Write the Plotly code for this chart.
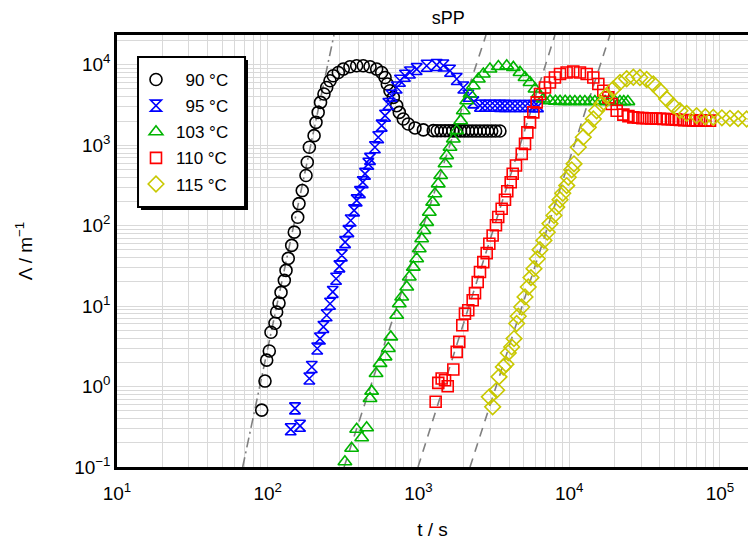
import plotly.graph_objects as go

# ---------------- data ----------------
black_t = [91.2, 95.9, 98.4, 102.4, 105.1, 111.7, 114.6, 118.8, 122.5, 128.8, 132.2, 136.8, 144.2, 150.0,
           158.1, 161.2, 169.4, 179.4, 182.9, 188.8, 203, 209, 216, 224, 236, 246, 259, 272, 294, 317, 351,
           389, 430, 477, 528, 570, 600, 621, 647, 681, 717, 746, 793, 855, 948, 1077, 1254,
           1330, 1410, 1500, 1590, 1690, 1790, 1900, 2020, 2140, 2270, 2410, 2560, 2720, 2880, 3060, 3250, 3470]
black_L = [0.51, 1.17, 2.13, 2.77, 4.73, 6.12, 8.45, 10.9, 14.8, 20.9, 27.8, 39.2, 56.8, 83,
           127, 188, 273, 420, 614, 942, 1315, 1923, 2559, 3405, 4325, 5224, 6324, 7304, 8020, 8840, 9440,
           9720, 9720, 9440, 8840, 8020, 6950, 5770, 4755, 3930, 3100, 2559, 2118, 1837, 1640, 1549, 1518,
           1515, 1512, 1510, 1510, 1508, 1508, 1506, 1506, 1505, 1505, 1504, 1504, 1503, 1503, 1502, 1502, 1502]

blue_t = [142, 151.6, 163.8, 188.8, 196, 213, 222, 234, 246, 259, 270, 284, 299, 310, 326, 343, 355, 374,
          389, 409, 427, 442, 465, 477, 514, 541, 570, 600, 631, 664, 717, 754, 813, 878, 973, 1133, 1320,
          1462, 1619, 1793, 1983, 2141, 2311, 2559,
          2760, 2979, 3220, 3472, 3740, 4047, 4370, 4716, 5100, 5495, 5850, 6207]
blue_L = [0.294, 0.535, 0.325, 1.26, 1.75, 2.97, 3.95, 5.51, 7.69, 10.7, 15.0, 21.9, 31.2, 42.7, 62.4, 85.5,
          116, 155, 206, 261, 347, 441, 587, 676, 942, 1254, 1750, 2328, 3250, 4120, 5224, 6324, 7304, 8020,
          8840, 9720, 9950, 9800, 8430, 6650, 5224, 4120, 3405, 3100,
          3100, 3090, 3090, 3080, 3080, 3075, 3075, 3070, 3070, 3070, 3065, 3065]

green_t = [325, 360, 389, 420, 453, 477, 489, 523, 556, 600, 631, 655, 717, 746, 774, 836, 869, 924, 973,
           1012, 1050, 1088, 1133, 1180, 1242, 1286, 1352, 1403, 1500, 1538, 1619, 1703, 1793, 1905, 1983,
           2089, 2197, 2311, 2495, 2692, 2979, 3388, 3849, 4259, 4716, 5090, 5495, 5930, 6240, 6730, 7460,
           8100, 8690, 9400, 10120, 10900, 11800, 12700, 13750, 14800, 16000, 17300, 18600, 20100, 21700,
           23000, 24500]
green_L = [0.116, 0.171, 0.294, 0.231, 0.308, 0.711, 0.877, 1.45, 1.94, 2.34, 2.97, 4.14, 7.69, 10.7, 13.0,
           17.3, 23.0, 30.5, 38.8, 51.6, 68.7, 87.1, 110, 147, 196, 249, 331, 420, 587, 743, 942, 1197, 1518,
           2018, 2685, 3573, 4325, 5480, 6650, 7670, 8840, 9500, 9700, 9270, 8030, 6950, 6030, 4990, 4325,
           3755, 3573,
           3520, 3510, 3510, 3500, 3500, 3500, 3500, 3495, 3495, 3490, 3490, 3490, 3490, 3485, 3485, 3485]

red_t = [1300, 1353, 1425, 1500, 1563, 1703, 1793, 1865, 1953, 2034, 2139, 2289, 2371, 2471, 2559, 2692,
         2834, 2951, 3105, 3266, 3381, 3563, 3749, 3882, 4091, 4218, 4436, 4841, 5090, 5275, 5495, 5780,
         6085, 6400, 6905, 7450, 8040, 8690, 9610, 10640, 11780, 13050, 14450, 15600, 16830, 18170, 19140,
         20650,
         22860, 24700, 26630, 28600, 30600, 32670, 35000, 37500, 40000, 42100, 45000, 48000, 51000, 54300,
         58000, 62000, 66000, 70000, 75000, 80000, 85900]
red_L = [0.646, 1.11, 1.26, 1.20, 1.01, 1.63, 2.70, 3.59, 5.78, 8.07, 8.88, 11.8, 14.5, 19.9, 26.5, 35.2,
         45.6, 59.6, 75.5, 101, 128, 162, 210, 268, 347, 441, 559, 780, 1038, 1445, 1923, 2559, 3405, 4325,
         5224, 6030, 6950, 7670, 8020, 8260, 8020, 7670, 6950, 5770, 4755, 3930, 3250, 2685,
         2400, 2300, 2220, 2190, 2170, 2160, 2150, 2140, 2130, 2120, 2110, 2100, 2080, 2060, 2050, 2040,
         2030, 2020, 2020, 2020, 2020]

yellow_t = [2951, 3105, 3304, 3420, 3655, 3804, 3941, 4150, 4302, 4480, 4592, 4841, 5090, 5350, 5575, 5840,
            6140, 6400, 6800, 7150, 7450, 7925, 8260, 8690, 9060, 9620, 9860, 10380, 10760, 11490, 12400,
            13380, 14450, 15200, 16410, 17710, 19590, 21720, 24050, 26630, 29440, 32650, 36130, 40000,
            44330, 49000, 54300, 60100, 70000, 80000, 90300, 103000, 116500, 132000, 150300, 173400, 200000]
yellow_L = [0.745, 0.560, 0.902, 1.32, 1.75, 1.90, 2.62, 3.11, 3.95, 6.07, 7.47, 9.75, 13.0, 17.3, 22.6,
            29.2, 38.8, 50.2, 65.5, 83.0, 106, 134, 170, 210, 253, 315, 400, 494, 587, 942, 1254, 1668, 2118,
            2685, 3250, 4120, 4990, 6030, 6700, 7000, 6950, 6550, 5770, 4755, 3750, 3100, 2685, 2485, 2328,
            2260, 2220, 2190, 2160, 2140, 2120, 2120, 2120]

# straight guide lines (log-log), endpoints
guide_L = [0.1, 23400]
guide_black_t = [68.2, 275]
guide_green_t = [321, 2805]
guide_red_t = [993, 8040]
guide_yellow_t = [2197, 18620]

series_names = ["\u200790 °C", "\u200795 °C", "103 °C", "110 °C", "115 °C"]
x_tickvals = [10, 100, 1000, 10000, 100000]
x_ticktext = ["10<sup>1</sup>", "10<sup>2</sup>", "10<sup>3</sup>", "10<sup>4</sup>", "10<sup>5</sup>"]
y_tickvals = [0.1, 1, 10, 100, 1000, 10000]
y_ticktext = ["10<sup>\u22121</sup>", "10<sup>0</sup>", "10<sup>1</sup>", "10<sup>2</sup>",
              "10<sup>3</sup>", "10<sup>4</sup>"]

FONT = "Liberation Sans, Arial, sans-serif"

fig = go.Figure()

# guide lines
for gt, dash in [(guide_black_t, "10px,4px,2px,4px"), (guide_green_t, "9px,7px"),
                 (guide_red_t, "9px,7px"), (guide_yellow_t, "9px,7px")]:
    fig.add_trace(go.Scatter(x=gt, y=guide_L, mode="lines", showlegend=False, hoverinfo="skip",
                             line=dict(color="#808080", width=1.6, dash=dash)))

specs = [
    (black_t, black_L, "circle-open", "#000000", 12),
    (blue_t, blue_L, "hourglass-open", "#0000ff", 11),
    (green_t, green_L, "triangle-up-open", "#00b400", 12),
    (red_t, red_L, "square-open", "#ff0000", 11),
    (yellow_t, yellow_L, "diamond-open", "#c8c800", 12),
]
for i, (t, L, sym, col, sz) in enumerate(specs):
    fig.add_trace(go.Scatter(x=t, y=L, mode="markers", name=series_names[i],
                             legendgroup=str(i),
                             marker=dict(symbol=sym, size=sz, color=col, line=dict(color=col, width=1.6))))

grid_col = "#d9d9d9"
fig.update_layout(
    width=740, height=532,
    margin=dict(l=109, r=0, t=27, b=73),
    paper_bgcolor="white", plot_bgcolor="white",
    title=dict(text="sPP", xref="paper", x=0.525, xanchor="center", y=0.982, yanchor="middle",
               font=dict(family=FONT, size=18, color="black")),
    showlegend=True,
    legend=dict(x=0.0301, y=0.9375, xanchor="left", yanchor="top", bgcolor="rgba(0,0,0,0)",
                borderwidth=0, traceorder="grouped", tracegroupgap=1,
                font=dict(family=FONT, size=17, color="black")),
    shapes=[
        dict(type="rect", xref="paper", yref="paper", x0=0.0380, x1=0.2076, y0=0.5949, y1=0.9421,
             fillcolor="black", line=dict(width=0), layer="above"),
        dict(type="rect", xref="paper", yref="paper", x0=0.0333, x1=0.2029, y0=0.6019, y1=0.9491,
             fillcolor="white", line=dict(color="black", width=2), layer="above"),
    ],
    xaxis=dict(type="log", range=[1, 5.186], showline=True, linecolor="black", linewidth=2.5, mirror=True,
               automargin=False,
               showgrid=True, gridcolor=grid_col, gridwidth=1.3, zeroline=False, ticks="",
               tickvals=x_tickvals, ticktext=x_ticktext, ticklabelstandoff=7,
               minor=dict(dtick="D1", showgrid=True, gridcolor=grid_col, gridwidth=1.3),
               tickfont=dict(family=FONT, size=19, color="black"),
               title=dict(text="t / s", font=dict(family=FONT, size=19, color="black"), standoff=30)),
    yaxis=dict(type="log", range=[-1, 4.37], showline=True, linecolor="black", linewidth=2.5, mirror=False,
               automargin=False,
               showgrid=True, gridcolor=grid_col, gridwidth=1.3, zeroline=False, ticks="",
               tickvals=y_tickvals, ticktext=y_ticktext,
               minor=dict(dtick="D1", showgrid=True, gridcolor=grid_col, gridwidth=1.3),
               tickfont=dict(family=FONT, size=19, color="black"),
               title=dict(text="\u039b / m<sup>\u22121</sup>", font=dict(family=FONT, size=19, color="black"),
                          standoff=37)),
)

fig.write_html("out.html")
